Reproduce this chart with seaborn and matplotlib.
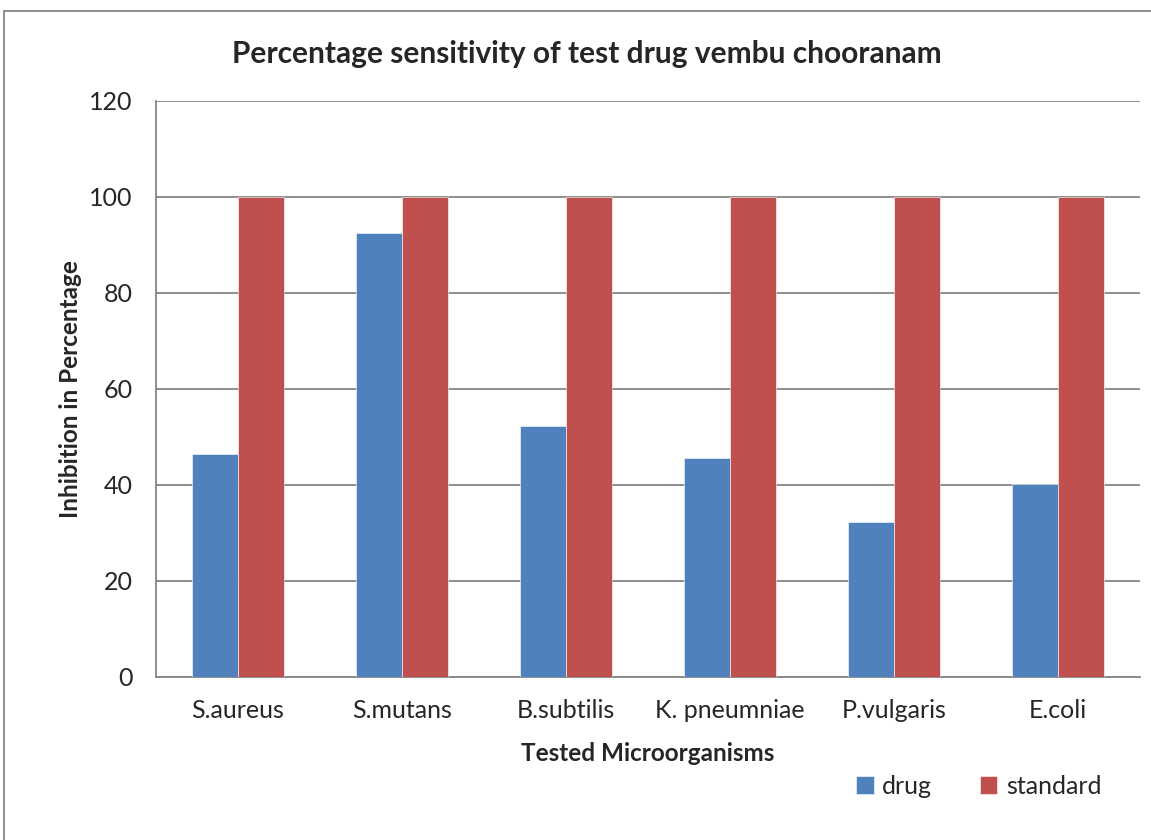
import pandas as pd
import seaborn as sns
import matplotlib.pyplot as plt
from matplotlib.patches import Rectangle

# data
organisms = ["S.aureus", "S.mutans", "B.subtilis", "K. pneumniae", "P.vulgaris", "E.coli"]
drug = [46.5, 92.5, 52.3, 45.6, 32.3, 40.2]
standard = [100, 100, 100, 100, 100, 100]

df = pd.DataFrame({
    "organism": organisms * 2,
    "value": drug + standard,
    "series": ["drug"] * len(organisms) + ["standard"] * len(organisms),
})

sns.set_style("white")
plt.rcParams["font.family"] = ["Lato", "DejaVu Sans"]

fig = plt.figure(figsize=(11.51, 8.4), dpi=100)
ax = fig.add_axes([156 / 1151, 1 - 677 / 840, (1140 - 156) / 1151, (677 - 101) / 840])

sns.barplot(data=df, x="organism", y="value", hue="series",
            palette={"drug": "#4F81BD", "standard": "#C0504D"},
            width=0.567, gap=0, edgecolor="white", linewidth=0.4,
            saturation=1, ax=ax, zorder=3)

ax.set_ylim(0, 120)
ax.set_yticks(range(0, 121, 20))
ax.set_xlim(-0.5, len(organisms) - 0.5)
ax.yaxis.grid(True, color="#868686", linewidth=1.3, zorder=0)
ax.set_axisbelow(True)

for side in ["top", "right"]:
    ax.spines[side].set_visible(False)
for side in ["left", "bottom"]:
    ax.spines[side].set_color("#868686")
    ax.spines[side].set_linewidth(1.3)

# x ticks at category boundaries, labels at centres
ax.set_xticks([i - 0.5 for i in range(len(organisms) + 1)], minor=True)
ax.tick_params(axis="x", which="minor", length=8, width=1.3, color="#868686", direction="out")
ax.tick_params(axis="x", which="major", length=0, pad=16, labelsize=18)
ax.tick_params(axis="y", length=7, width=1.3, color="#868686", direction="out", pad=10, labelsize=18)

ax.set_xlabel("Tested Microorganisms", fontsize=17.5, fontweight="bold", labelpad=14)
ax.set_ylabel("Inhibition in Percentage", fontsize=17.5, fontweight="bold", labelpad=5)
ax.set_title("Percentage sensitivity of test drug vembu chooranam",
             fontsize=21.5, fontweight="bold", pad=27, x=0.438)

ax.legend(loc="upper left", bbox_to_anchor=(690 / 984, -0.152), ncol=2, frameon=False,
          fontsize=18, handlelength=0.7, handleheight=0.7, handletextpad=0.35,
          columnspacing=1.9, borderaxespad=0)

fig.patches.append(Rectangle((4 / 1151, -0.05), 1.1, 1.05 - 11 / 840,
                             transform=fig.transFigure, fill=False,
                             edgecolor="#868686", linewidth=1.3))

fig.savefig("out.png", dpi=100)
